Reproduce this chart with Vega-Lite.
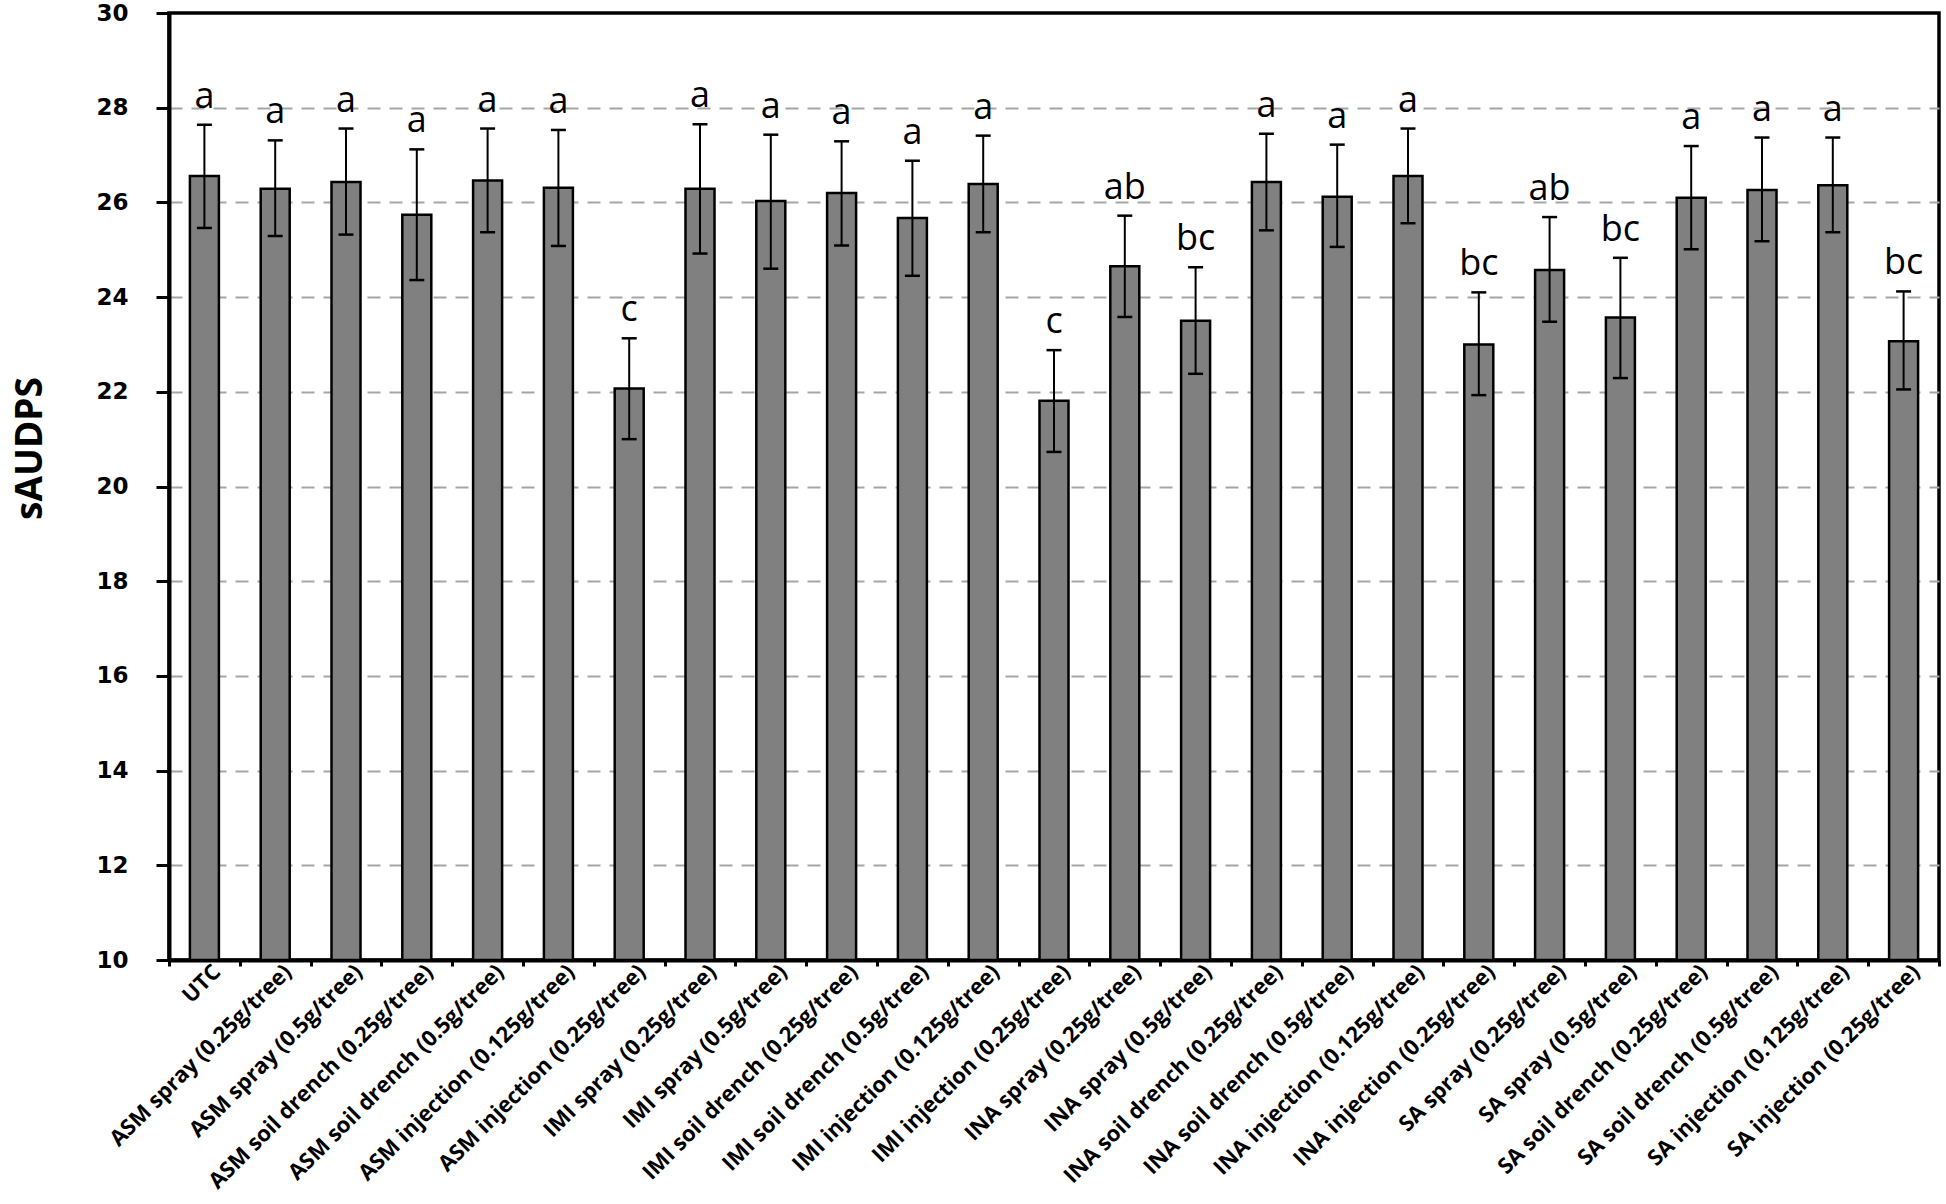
{
  "$schema": "https://vega.github.io/schema/vega-lite/v6.json",
  "width": 1770,
  "height": 947,
  "autosize": {"type": "none"},
  "padding": {"left": 169, "top": 13, "right": 7, "bottom": 244},
  "background": "white",
  "config": {
    "view": {"stroke": "black", "strokeWidth": 3.5}
  },
  "data": {
    "values": [
      {"treatment": "UTC", "mean": 26.56, "lo": 25.46, "hi": 27.64, "letter": "a"},
      {"treatment": "ASM spray (0.25g/tree)", "mean": 26.29, "lo": 25.29, "hi": 27.31, "letter": "a"},
      {"treatment": "ASM spray (0.5g/tree)", "mean": 26.43, "lo": 25.32, "hi": 27.56, "letter": "a"},
      {"treatment": "ASM soil drench (0.25g/tree)", "mean": 25.74, "lo": 24.36, "hi": 27.12, "letter": "a"},
      {"treatment": "ASM soil drench (0.5g/tree)", "mean": 26.46, "lo": 25.37, "hi": 27.56, "letter": "a"},
      {"treatment": "ASM injection (0.125g/tree)", "mean": 26.31, "lo": 25.08, "hi": 27.53, "letter": "a"},
      {"treatment": "ASM injection (0.25g/tree)", "mean": 22.07, "lo": 21.0, "hi": 23.13, "letter": "c"},
      {"treatment": "IMI spray (0.25g/tree)", "mean": 26.29, "lo": 24.92, "hi": 27.65, "letter": "a"},
      {"treatment": "IMI spray (0.5g/tree)", "mean": 26.03, "lo": 24.6, "hi": 27.43, "letter": "a"},
      {"treatment": "IMI soil drench (0.25g/tree)", "mean": 26.2, "lo": 25.09, "hi": 27.29, "letter": "a"},
      {"treatment": "IMI soil drench (0.5g/tree)", "mean": 25.67, "lo": 24.45, "hi": 26.88, "letter": "a"},
      {"treatment": "IMI injection (0.125g/tree)", "mean": 26.39, "lo": 25.37, "hi": 27.41, "letter": "a"},
      {"treatment": "IMI injection (0.25g/tree)", "mean": 21.81, "lo": 20.73, "hi": 22.88, "letter": "c"},
      {"treatment": "INA spray (0.25g/tree)", "mean": 24.65, "lo": 23.58, "hi": 25.72, "letter": "ab"},
      {"treatment": "INA spray (0.5g/tree)", "mean": 23.5, "lo": 22.38, "hi": 24.63, "letter": "bc"},
      {"treatment": "INA soil drench (0.25g/tree)", "mean": 26.43, "lo": 25.41, "hi": 27.45, "letter": "a"},
      {"treatment": "INA soil drench (0.5g/tree)", "mean": 26.12, "lo": 25.06, "hi": 27.22, "letter": "a"},
      {"treatment": "INA injection (0.125g/tree)", "mean": 26.56, "lo": 25.56, "hi": 27.56, "letter": "a"},
      {"treatment": "INA injection (0.25g/tree)", "mean": 23.0, "lo": 21.93, "hi": 24.1, "letter": "bc"},
      {"treatment": "SA spray (0.25g/tree)", "mean": 24.57, "lo": 23.48, "hi": 25.69, "letter": "ab"},
      {"treatment": "SA spray (0.5g/tree)", "mean": 23.57, "lo": 22.29, "hi": 24.83, "letter": "bc"},
      {"treatment": "SA soil drench (0.25g/tree)", "mean": 26.1, "lo": 25.01, "hi": 27.19, "letter": "a"},
      {"treatment": "SA soil drench (0.5g/tree)", "mean": 26.26, "lo": 25.18, "hi": 27.37, "letter": "a"},
      {"treatment": "SA injection (0.125g/tree)", "mean": 26.36, "lo": 25.37, "hi": 27.37, "letter": "a"},
      {"treatment": "SA injection (0.25g/tree)", "mean": 23.07, "lo": 22.05, "hi": 24.12, "letter": "bc"}
    ]
  },
  "encoding": {
    "x": {
      "field": "treatment",
      "type": "nominal",
      "sort": null,
      "scale": {"paddingInner": 0, "paddingOuter": 0},
      "axis": {
        "title": null,
        "labelAngle": -45,
        "labelAlign": "right",
        "labelBaseline": "middle",
        "labelFont": "Open Sans",
        "labelFontSize": 22,
        "labelFontWeight": "bold",
        "labelColor": "black",
        "labelPadding": 2,
        "labelOffset": 12,
        "labelLimit": 400,
        "tickBand": "extent",
        "tickSize": 6,
        "tickWidth": 3,
        "tickColor": "black",
        "domainColor": "black",
        "domainWidth": 4,
        "grid": false
      }
    }
  },
  "layer": [
    {
      "mark": {"type": "bar", "width": 29, "fill": "#808080", "stroke": "black", "strokeWidth": 2.5},
      "encoding": {
        "y": {
          "field": "mean",
          "type": "quantitative",
          "scale": {"domain": [10, 30], "zero": false, "nice": false},
          "axis": {
            "title": "sAUDPS",
            "titleFont": "Open Sans",
            "titleFontSize": 37,
            "titleFontWeight": "bold",
            "titleColor": "black",
            "titleAngle": -90,
            "titleAlign": "center",
            "titleBaseline": "alphabetic",
            "titleX": -128,
            "titleY": 435,
            "values": [10, 12, 14, 16, 18, 20, 22, 24, 26, 28, 30],
            "labelFont": "DejaVu Sans",
            "labelFontSize": 23,
            "labelFontWeight": "bold",
            "labelColor": "black",
            "labelPadding": 28,
            "tickSize": 13,
            "tickWidth": 3,
            "tickColor": "black",
            "domainColor": "black",
            "domainWidth": 4,
            "grid": true,
            "gridColor": "#a6a6a6",
            "gridWidth": 2,
            "gridDash": [13, 9],
            "gridOpacity": {"condition": {"test": "datum.value >= 29.5 || datum.value <= 10.5", "value": 0}, "value": 1}
          }
        },
        "y2": {"datum": 10}
      }
    },
    {
      "mark": {"type": "rule", "stroke": "black", "strokeWidth": 2},
      "encoding": {
        "y": {"field": "lo", "type": "quantitative"},
        "y2": {"field": "hi"}
      }
    },
    {
      "mark": {"type": "tick", "color": "black", "size": 15, "thickness": 2.5, "opacity": 1},
      "encoding": {"y": {"field": "lo", "type": "quantitative"}}
    },
    {
      "mark": {"type": "tick", "color": "black", "size": 15, "thickness": 2.5, "opacity": 1},
      "encoding": {"y": {"field": "hi", "type": "quantitative"}}
    },
    {
      "mark": {"type": "text", "font": "Open Sans", "fontSize": 36, "color": "black", "baseline": "alphabetic", "align": "center", "dy": -17},
      "encoding": {
        "y": {"field": "hi", "type": "quantitative"},
        "text": {"field": "letter"}
      }
    }
  ]
}
